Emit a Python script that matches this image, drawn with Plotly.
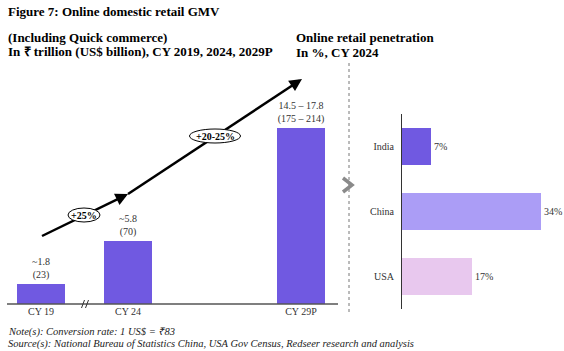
import plotly.graph_objects as go

W, H = 564, 351

# ---- data ----
gmv_years = ["CY 19", "CY 24", "CY 29P"]
gmv_inr_low = [1.8, 5.8, 14.5]      # ₹ trillion
gmv_inr_high = [1.8, 5.8, 17.8]
gmv_labels = ["~1.8<br>(23)", "~5.8<br>(70)", "14.5 – 17.8<br>(175 – 214)"]
growth_labels = ["+25%", "+20-25%"]

pen_countries = ["India", "China", "USA"]
pen_values = [7, 34, 17]
pen_labels = ["7%", "34%", "17%"]
pen_colors = ["#7059E1", "#AB9DF6", "#E8C8EE"]

FONT = "Liberation Serif"
BAR = "#7059E1"


def X(px):
    return px / W


def Y(py):
    return 1 - py / H


# layout geometry (pixels)
base_py = 304
top_py = 60
scale = 10.9  # px per ₹ trillion
y_top = (base_py - top_py) / scale
bar_x = [41, 128, 301]

bar_h = [(lo + hi) / 2 for lo, hi in zip(gmv_inr_low, gmv_inr_high)]

fig = go.Figure()
fig.add_trace(go.Bar(
    x=bar_x, y=bar_h, width=48, marker=dict(color=BAR, line=dict(width=0)),
    text=gmv_labels, textposition="outside", constraintext="none", cliponaxis=False,
    textfont=dict(family=FONT, size=10, color="#333"),
    xaxis="x", yaxis="y", showlegend=False, hoverinfo="skip",
))

fig.add_trace(go.Bar(
    y=pen_countries, x=pen_values, orientation="h", width=0.57,
    marker=dict(color=pen_colors, line=dict(width=0)),
    text=pen_labels, textposition="outside", constraintext="none", cliponaxis=False,
    textfont=dict(family=FONT, size=10, color="#333"),
    xaxis="x2", yaxis="y2", showlegend=False, hoverinfo="skip",
))


def yv(py):
    return (base_py - py) / scale


shapes = []
annotations = []

# baseline
shapes.append(dict(type="line", xref="paper", yref="paper", x0=X(7), x1=X(338),
                   y0=Y(base_py), y1=Y(base_py), line=dict(color="#555", width=1.3)))
# break marks
for bx in (83, 87):
    shapes.append(dict(type="line", xref="paper", yref="paper", x0=X(bx - 1.5), x1=X(bx + 1.5),
                       y0=Y(308), y1=Y(300), line=dict(color="#333", width=1)))

# growth arrows
pts = [(42, 236), (128, 194), (302, 79)]
for (x0, y0), (x1, y1) in zip(pts[:-1], pts[1:]):
    shapes.append(dict(type="line", xref="x", yref="y", x0=x0, x1=x1 - (x1 - x0) * 0.03,
                       y0=yv(y0), y1=yv(y1 + (y0 - y1) * 0.03), line=dict(color="black", width=2.5)))
    dx, dy = x1 - x0, y1 - y0
    L = (dx ** 2 + dy ** 2) ** 0.5
    annotations.append(dict(x=x1, y=yv(y1), xref="x", yref="y", axref="x", ayref="y",
                            ax=x1 - dx / L * 10, ay=yv(y1 - dy / L * 10), text="",
                            showarrow=True, arrowhead=2, arrowsize=1, arrowwidth=2.5,
                            arrowcolor="black"))

# ellipses with growth labels
ell = [(84, 215, 32, 14), (215, 136, 51, 14)]
for (cx, cy, ew, eh), lab in zip(ell, growth_labels):
    shapes.append(dict(type="circle", xref="x", yref="y", x0=cx - ew / 2, x1=cx + ew / 2,
                       y0=yv(cy + eh / 2), y1=yv(cy - eh / 2),
                       fillcolor="white", line=dict(color="black", width=1)))
    annotations.append(dict(x=cx, y=yv(cy), xref="x", yref="y", text="<b>" + lab + "</b>",
                            showarrow=False, font=dict(family=FONT, size=10, color="black")))

# dashed divider
shapes.append(dict(type="line", xref="paper", yref="paper", x0=X(349), x1=X(349),
                   y0=Y(63), y1=Y(314), line=dict(color="#777", width=1, dash="dot")))
# chevron
shapes.append(dict(type="path", xref="paper", yref="paper",
                   path=f"M {X(343)} {Y(178)} L {X(352)} {Y(185)} L {X(343)} {Y(192)}",
                   line=dict(color="#8a8a8a", width=3.5)))

# titles
def txt(x, y, s, size, bold=False, italic=False, color="black"):
    if bold:
        s = "<b>" + s + "</b>"
    if italic:
        s = "<i>" + s + "</i>"
    annotations.append(dict(x=X(x), y=Y(y), xref="paper", yref="paper", text=s,
                            showarrow=False, xanchor="left", yanchor="middle",
                            font=dict(family=FONT, size=size, color=color)))

txt(6, 11, "Figure 7: Online domestic retail GMV", 13, bold=True)
txt(6, 38, "(Including Quick commerce)", 13, bold=True)
txt(6, 51, "In ₹ trillion (US$ billion), CY 2019, 2024, 2029P", 13, bold=True)
txt(294, 38, "Online retail penetration", 13, bold=True)
txt(294, 52, "In %, CY 2024", 13, bold=True)
txt(6, 332, "Note(s): Conversion rate: 1 US$ = ₹83", 10.5, italic=True, color="#222")
txt(6, 344, "Source(s): National Bureau of Statistics China, USA Gov Census, Redseer research and analysis",
    10.5, italic=True, color="#222")

fig.update_layout(
    width=W, height=H, margin=dict(l=0, r=0, t=0, b=0),
    paper_bgcolor="white", plot_bgcolor="white",
    bargap=0, shapes=shapes, annotations=annotations,
    xaxis=dict(domain=[0, 1], range=[0, W], showgrid=False, zeroline=False, showline=False,
               tickvals=bar_x, ticktext=gmv_years, ticks="", anchor="y",
               tickfont=dict(family=FONT, size=10, color="#333")),
    yaxis=dict(domain=[Y(base_py), Y(top_py)], range=[0, y_top], visible=False),
    xaxis2=dict(domain=[X(402), X(562)], range=[0, 39.1], visible=False, anchor="y2"),
    yaxis2=dict(domain=[Y(309), Y(114)], anchor="x2", autorange=False, range=[2.5, -0.5],
                categoryorder="array", categoryarray=pen_countries,
                showline=True, linecolor="#333", linewidth=1, ticks="", showgrid=False,
                ticklabelstandoff=5, tickfont=dict(family=FONT, size=10, color="#333")),
)

fig.write_html("out.html")
